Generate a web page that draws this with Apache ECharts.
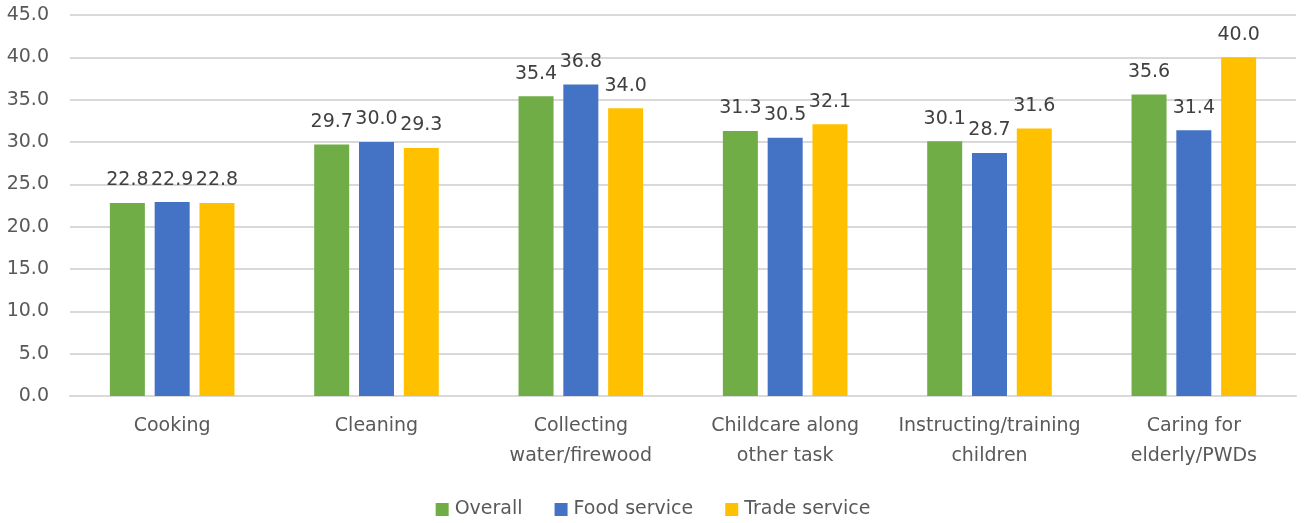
<!DOCTYPE html>
<html>
<head>
<meta charset="utf-8">
<script src="https://cdn.jsdelivr.net/npm/echarts@6/dist/echarts.min.js"></script>
<style>
  html, body { margin: 0; padding: 0; background: #ffffff; }
  #chart { width: 1306px; height: 523px; }
</style>
</head>
<body>
<div id="chart"></div>
<script>
// Share of time (%) by task type, per group
const categories = [
  'Cooking',
  'Cleaning',
  'Collecting\nwater/firewood',
  'Childcare along\nother task',
  'Instructing/training\nchildren',
  'Caring for\nelderly/PWDs'
];
const overall      = [22.8, 29.7, 35.4, 31.3, 30.1, 35.6];
const foodService  = [22.9, 30.0, 36.8, 30.5, 28.7, 31.4];
const tradeService = [22.8, 29.3, 34.0, 32.1, 31.6, 40.0];
const seriesNames  = ['Overall', 'Food service', 'Trade service'];
const seriesColors = ['#70AD47', '#4472C4', '#FFC000'];

const FONT = '"DejaVu Sans", sans-serif';

function barSeries(name, data, color) {
  return {
    name: name,
    type: 'bar',
    data: data,
    barWidth: 35,
    barGap: '28%',
    itemStyle: { color: color },
    label: {
      show: true,
      position: 'top',
      distance: 13,
      color: '#404040',
      fontFamily: FONT,
      fontSize: 19,
      formatter: p => p.value.toFixed(1)
    }
  };
}

const chart = echarts.init(document.getElementById('chart'), null, { renderer: 'canvas' });
chart.setOption({
  animation: false,
  backgroundColor: '#ffffff',
  textStyle: { fontFamily: FONT },
  grid: { left: 70, right: 10, top: 15, bottom: 127, containLabel: false },
  legend: {
    data: seriesNames,
    top: 495,
    left: 'center',
    itemWidth: 13,
    itemHeight: 13,
    itemGap: 32,
    icon: 'rect',
    textStyle: { color: '#595959', fontSize: 19, fontFamily: FONT, padding: [0, 0, 0, 1] }
  },
  xAxis: {
    type: 'category',
    data: categories,
    axisLine: { show: true, lineStyle: { color: '#d9d9d9', width: 2 } },
    axisTick: { show: false },
    axisLabel: {
      color: '#595959',
      fontSize: 19,
      fontFamily: FONT,
      margin: 15,
      lineHeight: 30,
      interval: 0
    }
  },
  yAxis: {
    type: 'value',
    min: 0,
    max: 45,
    interval: 5,
    axisLine: { show: false },
    axisTick: { show: false },
    splitLine: { lineStyle: { color: '#d9d9d9', width: 2 } },
    axisLabel: {
      color: '#595959',
      fontSize: 19,
      fontFamily: FONT,
      margin: 21,
      formatter: v => v.toFixed(1)
    }
  },
  series: [
    barSeries(seriesNames[0], overall, seriesColors[0]),
    barSeries(seriesNames[1], foodService, seriesColors[1]),
    barSeries(seriesNames[2], tradeService, seriesColors[2])
  ]
});
</script>
</body>
</html>
